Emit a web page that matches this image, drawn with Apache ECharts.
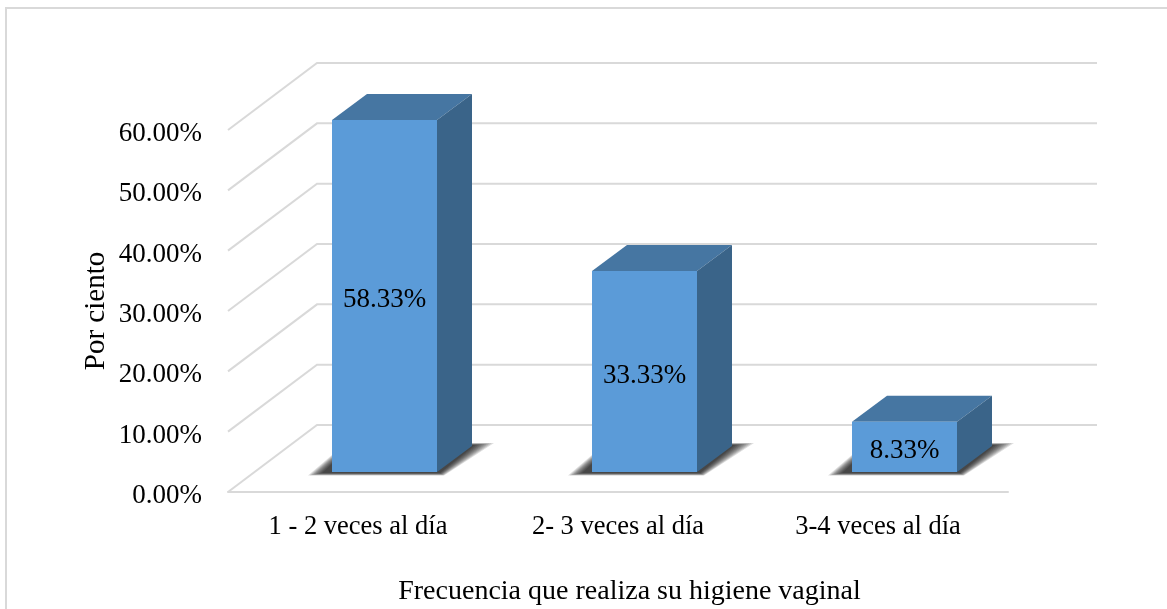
<!DOCTYPE html>
<html>
<head>
<meta charset="utf-8">
<style>html,body{margin:0;padding:0;background:#fff}#c{width:1167px;height:609px}</style>
<script src="https://cdn.jsdelivr.net/npm/echarts@6/dist/echarts.min.js"></script>
</head>
<body>
<div id="c"></div>
<script>
const categories = ['1 - 2 veces al día', '2- 3 veces al día', '3-4 veces al día'];
const percentages = [58.33, 33.33, 8.33];
const gridTicks = [0, 10, 20, 30, 40, 50, 60];
const xTitle = 'Frecuencia que realiza su higiene vaginal';
const yTitle = 'Por ciento';

const font = '"Liberation Serif", "Times New Roman", serif';
const WALL = [89, 67];       // oblique depth of the chart's floor
const BASE = [26, 20];       // bar front face, pushed into the floor
const DEPTH = [35, 26];      // bar's own depth
const BAR_W = 105;
const SHADOW_LAYERS = 9;

const chart = echarts.init(document.getElementById('c'));

function renderWall(params, api) {
  const cs = params.coordSys;
  const y = api.coord([0, api.value(0)])[1];
  return {
    type: 'polyline',
    shape: { points: [[cs.x, y], [cs.x + WALL[0], y - WALL[1]], [cs.x + cs.width + WALL[0], y - WALL[1]]] },
    style: { stroke: '#d9d9d9', lineWidth: 2, fill: null }
  };
}

function shadowLayers(xL, xR, yB, dy) {
  const out = [];
  for (let k = 0; k < SHADOW_LAYERS; k++) {
    const t = k / (SHADOW_LAYERS - 1);
    out.push({
      type: 'polygon',
      shape: { points: [
        [xL - 10 - 14 * t, yB + 1 + 2.5 * t],
        [xR + 3 + 4 * t, yB + 1 + 2.5 * t],
        [xR + 38 + 19 * t, yB - dy - 1 - 2 * t],
        [xL + 20 - 6 * t, yB - dy - 1 - 2 * t]
      ] },
      style: { fill: 'rgba(0,0,0,0.13)' }
    });
  }
  return out;
}

function renderBar(params, api) {
  const p = api.coord([api.value(0), api.value(1)]);
  const b = api.coord([api.value(0), 0]);
  const xL = Math.round(p[0] + BASE[0] - BAR_W / 2);
  const xR = xL + BAR_W;
  const yT = p[1] - BASE[1];
  const yB = b[1] - BASE[1];
  const dx = DEPTH[0], dy = DEPTH[1];
  const label = api.value(1).toFixed(2) + '%';
  return {
    type: 'group',
    children: shadowLayers(xL, xR, yB, dy).concat([
      { type: 'polygon',
        shape: { points: [[xL, yT], [xR, yT], [xR + dx, yT - dy], [xL + dx, yT - dy]] },
        style: { fill: '#4676A2' } },
      { type: 'polygon',
        shape: { points: [[xR, yT], [xR + dx, yT - dy], [xR + dx, yB - dy], [xR, yB]] },
        style: { fill: '#3A6489' } },
      { type: 'rect',
        shape: { x: xL, y: yT, width: BAR_W, height: yB - yT },
        style: { fill: '#5B9BD8' } },
      { type: 'text',
        style: { text: label, x: (xL + xR) / 2, y: (yT + yB) / 2 + 4, align: 'center', verticalAlign: 'middle',
                 font: '27px ' + font, fill: '#000' } }
    ])
  };
}

chart.setOption({
  animation: false,
  backgroundColor: '#fff',
  grid: { left: 228, right: 159, top: 130, bottom: 117, containLabel: false, outerBoundsMode: 'none' },
  xAxis: {
    type: 'category', data: categories,
    name: xTitle, nameLocation: 'middle', nameGap: 86,
    nameTextStyle: { fontFamily: font, fontSize: 28, color: '#000', padding: [0, 0, 0, 23] },
    axisLine: { show: true, lineStyle: { color: '#d9d9d9', width: 2 } },
    axisTick: { show: false },
    axisLabel: { fontFamily: font, fontSize: 26.5, color: '#000', margin: 22 }
  },
  yAxis: {
    type: 'value', min: 0, max: 60, interval: 10,
    name: yTitle, nameLocation: 'middle', nameGap: 117, nameRotate: 90, nameMoveOverlap: false,
    nameTextStyle: { fontFamily: font, fontSize: 29, color: '#000' },
    axisLine: { show: false }, axisTick: { show: false }, splitLine: { show: false },
    axisLabel: { fontFamily: font, fontSize: 27, color: '#000', margin: 26, verticalAlign: 'top', lineHeight: 8,
                 formatter: v => v.toFixed(2) + '%' }
  },
  series: [
    { type: 'custom', name: 'Rejilla', silent: true, z: 1, renderItem: renderWall,
      encode: { y: 0 }, data: gridTicks.map(v => [v]) },
    { type: 'custom', name: 'Por ciento', z: 2, renderItem: renderBar,
      encode: { x: 0, y: 1 }, data: percentages.map((v, i) => [i, v]) }
  ],
  graphic: [
    { type: 'polyline', silent: true, z: 0,
      shape: { points: [[6, 609], [6, 8], [1167, 8]] },
      style: { stroke: '#d9d9d9', lineWidth: 2, fill: null } }
  ]
});
</script>
</body>
</html>
